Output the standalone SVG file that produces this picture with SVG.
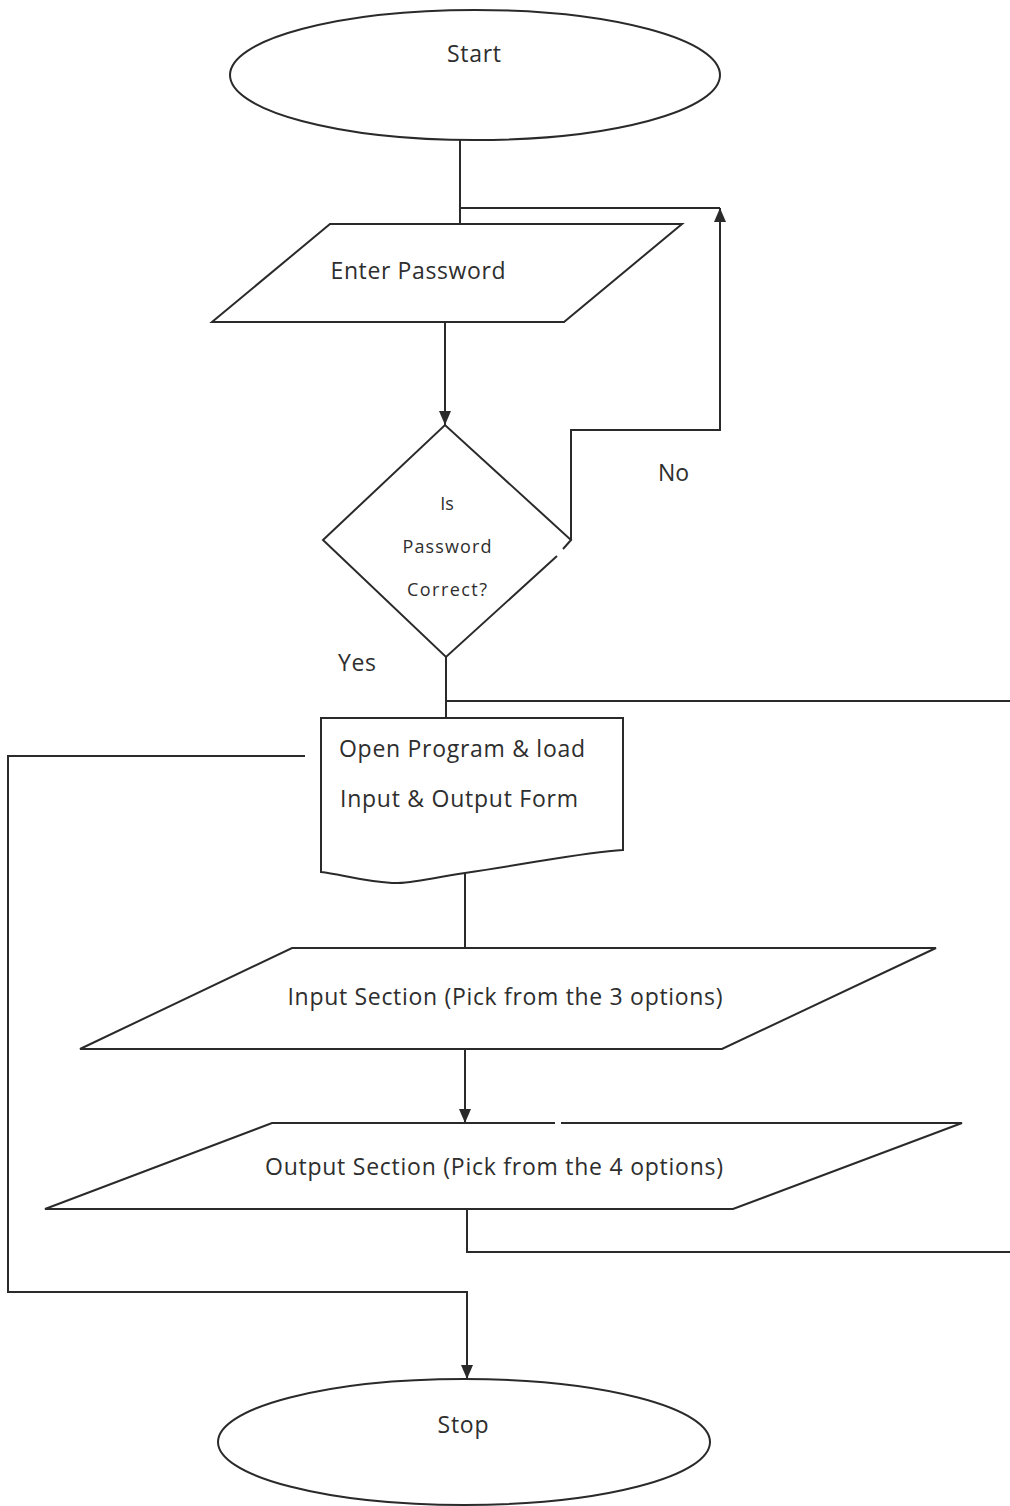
<svg xmlns="http://www.w3.org/2000/svg" width="1010" height="1506" viewBox="0 0 1010 1506">
<style>
.s{fill:#fff;stroke:#2a2a2a;stroke-width:2}
.c{fill:none;stroke:#2a2a2a;stroke-width:2}
text{font-family:"Open Sans","Noto Sans","Liberation Sans",sans-serif;fill:#2e2e2e;font-size:23px}
.m{text-anchor:middle}
.d{font-size:18px}
</style>
<defs>
<marker id="ah" viewBox="0 0 14 12" refX="14" refY="6" markerWidth="14" markerHeight="12" markerUnits="userSpaceOnUse" orient="auto">
<path d="M0,0 L14,6 L0,12 Z" fill="#2a2a2a"/>
</marker>
</defs>
<rect width="1010" height="1506" fill="#fff"/>
<g id="connectors">
<path class="c" d="M460,140 V224"/>
<path class="c" d="M460,208 H720"/>
<path class="c" d="M571,540 V430 H720 V208" marker-end="url(#ah)"/>
<path class="c" d="M445,322 V425" marker-end="url(#ah)"/>
<path class="c" d="M446,657 V718"/>
<path class="c" d="M446,701 H1010"/>
<path class="c" d="M305,756 H8 V1292 H467 V1379" marker-end="url(#ah)"/>
<path class="c" d="M465,874 V948"/>
<path class="c" d="M465,1049 V1123" marker-end="url(#ah)"/>
<path class="c" d="M467,1209 V1252 H1010"/>
</g>
<g id="start">
<ellipse class="s" cx="475" cy="75" rx="245" ry="65"/>
<text class="m" x="474" y="62" textLength="54">Start</text>
</g>
<g id="enter-password">
<polygon class="s" points="330,224 682,224 564,322 212,322"/>
<text class="m" x="418" y="279" textLength="175">Enter Password</text>
</g>
<g id="decision">
<polygon points="445,425 571,540 446,657 323,540" fill="#fff"/>
<path class="c" d="M557,556 L446,657 L323,540 L445,425 L571,540 L563,549"/>
<text class="m d" x="447" y="510">Is</text>
<text class="m d" x="447" y="553" textLength="89">Password</text>
<text class="m d" x="447" y="596" textLength="80">Correct?</text>
</g>
<text id="label-no" x="658" y="481" textLength="31">No</text>
<text id="label-yes" x="338" y="671" textLength="38">Yes</text>
<g id="open-program">
<path class="s" d="M321,718 H623 V850 C585,852 540,862 465,873 C430,878 410,884 392,883 C360,881 340,874 321,872 Z"/>
<text x="339" y="757" textLength="246">Open Program &amp; load</text>
<text x="340" y="807" textLength="238">Input &amp; Output Form</text>
</g>
<g id="input-section">
<polygon class="s" points="292,948 936,948 722,1049 80,1049"/>
<text class="m" x="505" y="1005" textLength="435">Input Section (Pick from the 3 options)</text>
</g>
<g id="output-section">
<polygon class="s" points="272,1123 962,1123 733,1209 45,1209"/>
<line x1="555" y1="1123" x2="561" y2="1123" stroke="#fff" stroke-width="4"/>
<text class="m" x="494" y="1175" textLength="458">Output Section (Pick from the 4 options)</text>
</g>
<g id="stop">
<ellipse class="s" cx="464" cy="1442" rx="246" ry="63"/>
<text class="m" x="463" y="1433" textLength="51">Stop</text>
</g>
</svg>
